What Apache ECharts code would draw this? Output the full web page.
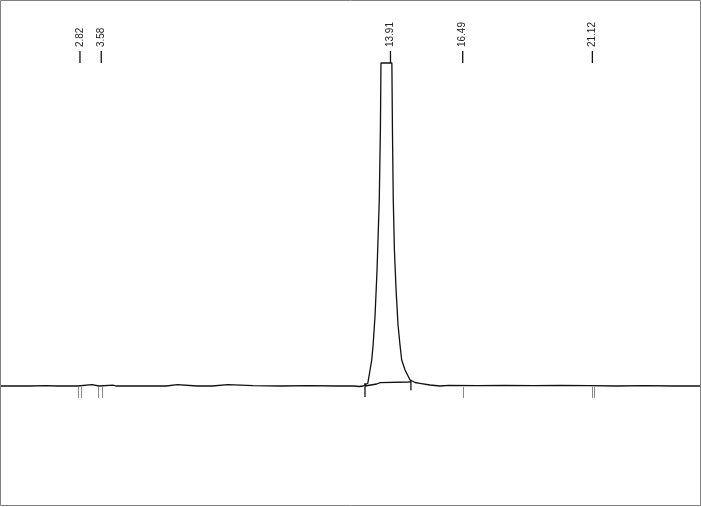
<!DOCTYPE html>
<html>
<head>
<meta charset="utf-8">
<script src="https://cdn.jsdelivr.net/npm/echarts@6/dist/echarts.min.js"></script>
<style>
html, body { margin: 0; padding: 0; background: #fff; }
#chart { width: 701px; height: 507px; }
</style>
</head>
<body>
<div id="chart"></div>
<script>
// retention time (min), signal (% of full scale)
const traceTime = [0, 1.0, 1.6, 2.0, 2.5, 2.74, 2.76, 3.25, 3.27, 3.5, 3.55, 4.0, 4.1, 5.0, 5.9, 5.95, 6.3, 6.35,
  7.0, 7.55, 7.6, 8.1, 8.15, 9.0, 10.0, 11.0, 12.0, 12.6, 12.8, 12.93,
  13.1, 13.18, 13.24, 13.29, 13.36, 13.43, 13.51, 13.55, 13.57, 13.96, 13.98, 14.01, 14.05, 14.11,
  14.18, 14.25, 14.31, 14.43, 14.61, 14.79, 14.96, 15.32, 15.68,
  16.0, 17.0, 18.0, 19.0, 20.0, 21.0, 22.0, 23.0, 24.0, 25.0];
const traceSignal = [0, 0, 0.1, 0, 0, 0, 0.45, 0.45, 0, 0, 0.45, 0.3, 0, 0, 0, 0.4, 0.4, 0,
  0, 0, 0.4, 0.4, 0, 0.1, 0, 0.1, 0, 0, -0.15, 0,
  0.84, 4.95, 8.05, 12.7, 22, 35.9, 57.6, 79.3, 100, 100, 79.3, 57.6, 42.1, 29.7,
  18.9, 12.7, 8.05, 4.95, 1.86, 1.08, 0.84, 0.31, 0,
  0.2, 0.1, 0.2, 0.1, 0.2, 0.1, 0, 0.1, 0, 0];

// integration baseline under the peak
const baseTime = [13.0, 13.42, 13.54, 14.55, 14.64];
const baseSignal = [0, 0.62, 1.02, 1.24, 1.3];

// peak labels at the top
const labelTimes = [2.82, 3.58, 13.91, 16.49, 21.12];
const labelTexts = ['2.82', '3.58', '13.91', '16.49', '21.12'];

// event marks below the baseline
const markTimes = [2.76, 2.84, 3.475, 3.60, 16.50, 21.10, 21.18];

// peak start / end marks
const boundTimes = [13.0, 14.64];
const boundTop = [0.93, 1.9];
const boundBottom = [-3.4, -1.3];

const chart = echarts.init(document.getElementById('chart'));

chart.setOption({
  animation: false,
  grid: { left: 1, right: 0, top: 0, bottom: 0 },
  xAxis: { type: 'value', min: 0, max: 25, show: false },
  yAxis: { type: 'value', min: -37.46, max: 119.5, show: false },
  graphic: [{
    type: 'rect',
    shape: { x: 0.5, y: 0.5, width: 700, height: 505 },
    style: { fill: 'none', stroke: '#808080', lineWidth: 1 },
    z: 100
  }],
  series: [
    {
      type: 'line',
      data: traceTime.map((t, i) => [t, traceSignal[i]]),
      showSymbol: false,
      lineStyle: { color: '#111', width: 1.3 },
      clip: false
    },
    {
      type: 'line',
      data: baseTime.map((t, i) => [t, baseSignal[i]]),
      showSymbol: false,
      lineStyle: { color: '#111', width: 1.3 }
    },
    {
      type: 'custom',
      data: markTimes.map(t => [t]),
      renderItem: function (params, api) {
        const a = api.coord([api.value(0), -0.3]);
        const b = api.coord([api.value(0), -3.7]);
        return {
          type: 'line',
          shape: { x1: Math.round(a[0]) + 0.5, y1: a[1], x2: Math.round(b[0]) + 0.5, y2: b[1] },
          style: { stroke: '#888', lineWidth: 1 }
        };
      }
    },
    {
      type: 'custom',
      data: boundTimes.map((t, i) => [t, boundTop[i], boundBottom[i]]),
      renderItem: function (params, api) {
        const a = api.coord([api.value(0), api.value(1)]);
        const b = api.coord([api.value(0), api.value(2)]);
        return {
          type: 'line',
          shape: { x1: a[0], y1: a[1], x2: b[0], y2: b[1] },
          style: { stroke: '#111', lineWidth: 1.3 }
        };
      }
    },
    {
      type: 'custom',
      data: labelTimes.map(t => [t]),
      renderItem: function (params, api) {
        const p = api.coord([api.value(0), 100]);
        const q = api.coord([api.value(0), 103.7]);
        return {
          type: 'group',
          children: [
            {
              type: 'line',
              shape: { x1: p[0], y1: p[1], x2: q[0], y2: q[1] },
              style: { stroke: '#111', lineWidth: 1.3 }
            },
            {
              type: 'text',
              x: q[0],
              y: q[1] - 4,
              rotation: Math.PI / 2,
              style: {
                text: labelTexts[params.dataIndex],
                font: '10px "Liberation Sans", Arial, sans-serif',
                fill: '#222',
                align: 'left',
                verticalAlign: 'middle'
              }
            }
          ]
        };
      }
    }
  ]
});
</script>
</body>
</html>
